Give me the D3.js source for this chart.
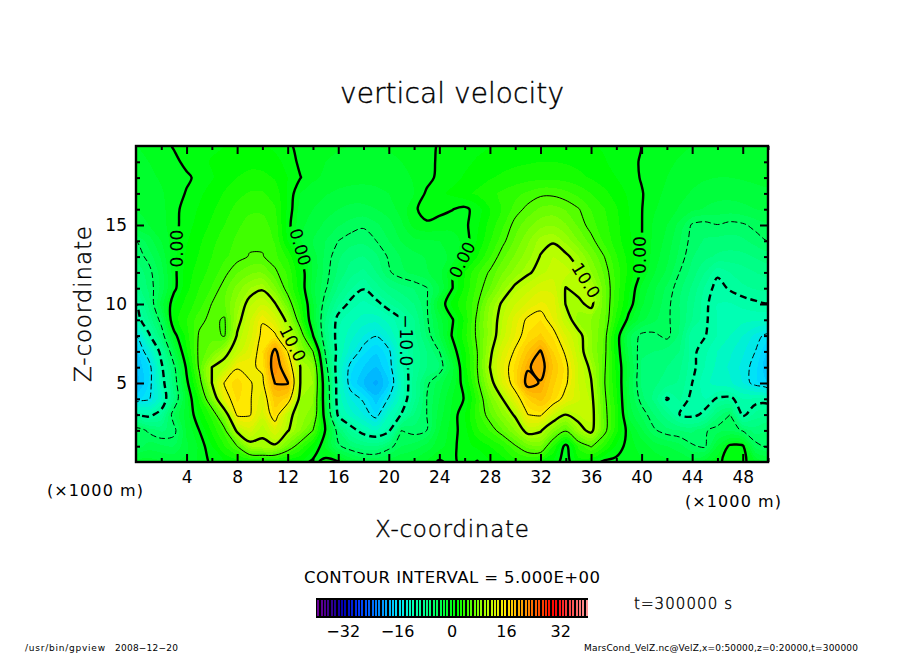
<!DOCTYPE html>
<html><head><meta charset="utf-8">
<script src="https://cdn.jsdelivr.net/npm/d3@7/dist/d3.min.js"></script>
<style>html,body{margin:0;padding:0;background:#fff}svg{display:block}text{font-family:"DejaVu Sans";fill:#000}</style>
</head><body><svg id="c" width="904" height="654"></svg>
<script>
// vertical velocity; one row per km of height, one value per km of x (0..50)
const velZ00=[-1.5,-1.5,-1.8,-2,-1.8,-.8,.3,1,1.5,1.5,1.5,1.5,1,.9,-.4,.4,.2,-2,-3,-3,-2.5,-2,-1.5,-.8,.2,-.4,.6,-.1,1,1.5,2.5,2.8,2,.8,-.8,1.5,1,-.3,-.4,-.6,-.9,-1.3,-1.7,-2,-2.5,-1.5,-.3,.5,.4,-1,-2];
const velZ01=[-4.8,-3.5,-3.8,-4,-2.2,-.8,1,3,5,9,9.7,9.6,6.6,3.8,1.5,-1.2,-4.7,-6,-6.8,-7,-5.6,-4,-3.6,-2.6,-1.4,-.4,.7,1.2,2,3,4.8,6.5,7,3,-.6,3.3,5.2,3.2,.8,-.6,-1.4,-2.4,-3,-3.6,-4.8,-5.3,-2,.4,.3,-4.4,-5.4];
const velZ02=[-4,-5.3,-6.2,-5.6,-1.8,0,2.2,4.4,10.6,12.5,10.3,13,10.2,8,5,-.2,-6,-9,-11,-12,-10.5,-5,-5.5,-5,-2,-.5,.6,2.8,4.1,5.9,8,11,10.3,7.5,5.3,8.9,10.8,5.8,2.4,-.8,-2.8,-4.8,-5.7,-6,-6.2,-5.2,-4.4,-4.2,-5.2,-6.5,-6];
const velZ03=[-10,-10.7,-9,-4,-1.5,1.2,3.4,8,15.4,15.2,12.5,16.5,11,8.5,7.5,-1.5,-10.5,-12.5,-14,-15.8,-12,-9.9,-7,-5,-2.5,-.8,1,3.5,5.8,8,10.4,15,15.4,12,10,11,11.2,5.8,2.8,-2.4,-4.2,-6,-7.6,-10,-10.6,-9.5,-6.5,-5,-10.5,-8.6,-8];
const velZ04=[-16.5,-15.3,-12,-6.8,-1.5,2.3,7.2,14,16.2,15.2,13.5,17.6,16.7,9,8.2,-2.2,-11.4,-14,-15.3,-17.6,-14.8,-11.3,-8.4,-5,-3,-1,0.1,3.4,7,10,13.8,17,18.5,16.6,14,12.2,10.8,5.6,2.3,-2.8,-5.6,-7.3,-10.2,-8.8,-10.5,-11,-9.8,-9.6,-11,-10.8,-11];
const velZ05=[-18.5,-16,-11.2,-6.3,-.5,4,10,15.2,16.5,15.1,14.5,20.1,20.2,10,9,-2.5,-11.5,-16,-18,-19.3,-17,-11.8,-8.5,-5.4,-3.5,-1.8,.8,4.5,8.8,13,16.2,21,19.8,17.3,15.4,12,10.2,5.3,2,-3,-6.2,-6.8,-7.4,-8.2,-10,-11.6,-12.5,-12.8,-14,-15.7,-17];
const velZ06=[-18,-16,-10.5,-5.5,.4,5.3,10,11,14.8,14.6,15.4,22,17.5,10,8.5,-4,-11.8,-15.7,-17,-18,-16,-11.3,-8.8,-7,-6,-2.5,1.5,5,10,13.8,16.3,19.7,21,18,15.6,12,9.5,5.5,1.7,-2.6,-6.2,-6.6,-7,-7.8,-9.6,-11,-12.3,-13.2,-14.3,-15.6,-18];
const velZ07=[-17,-13.8,-9.2,-3,1.8,5.4,6.5,9.2,11.2,13.6,16,20.8,15,8.2,5,-5.5,-11,-13.6,-15.7,-16.8,-15.4,-11.3,-8.8,-7,-5,-1,1.8,5,9.4,13,15.3,18,20.2,17,14.6,11.2,8.2,5.8,1.3,-3.4,-5.8,-6,-6.4,-7,-9.6,-10.7,-12,-12.8,-13.8,-15,-17];
const velZ08=[-15,-10.5,-6.2,-.7,2.5,5.2,5.7,4.8,10.2,12.4,15.6,15.4,11,6.6,0.1,-7,-11,-12.6,-14,-14.9,-13,-10.6,-8.3,-5.9,-3,.1,2.6,5.4,8.6,11.5,14,16.1,17.2,15.8,13,10.8,8.2,6,1.2,-3.6,-5.4,-5.3,-4.6,-6.2,-9.8,-9.9,-11,-12,-13,-14.3,-15.6];
const velZ09=[-11.2,-8,-4.3,1.5,3,4.6,5.4,4.8,9.2,11.8,14.8,12.8,9.2,3.5,-1.6,-7,-10.7,-11.7,-12.4,-12.6,-11.6,-10.2,-8.1,-5.3,-2.5,-.2,2.2,5.4,8.6,11,13.5,15.4,16,14,11.2,8.6,8,6.5,2.7,-.6,-2.7,-3.8,-4.7,-5.9,-8,-9.7,-11,-11.6,-11.7,-11.8,-12];
const velZ10=[-10,-6.6,-2.6,1,2.4,3.5,5.05,5.9,8.4,10.8,11.9,10.2,6.2,2.4,-1.8,-6,-8.8,-10.5,-11.3,-10.6,-9.1,-8,-7,-5.2,-1.1,1.3,2.8,4.8,8,10.4,12,13.2,14.2,13.7,9.9,9.4,10.7,6.5,3.4,.8,-1.8,-3.2,-4.6,-6,-7.7,-9.6,-11,-11.1,-10.7,-10.3,-10.1];
const velZ11=[-7.6,-5.8,-3.7,-.4,1.7,3,4.1,5.6,7.4,9,9.7,7.2,4.2,1.4,-2.7,-4.8,-7.2,-8.9,-9.9,-8.5,-7.2,-6.5,-5.9,-5.1,-3,-.1,2.2,4.3,6,8.5,10.5,11.6,12.7,12.6,9.9,10.8,10.2,6.5,3.6,1.2,-1.2,-2.8,-4.2,-5.7,-7.2,-9.1,-10.6,-9.8,-9.2,-8.9,-8.7];
const velZ12=[-6.8,-5.5,-3.5,-.4,1.5,2.5,3.4,4.6,5.9,6.7,6.9,5.3,3.8,1.1,-2.2,-4.5,-6.2,-7.6,-8.3,-7,-5.2,-4.2,-3.7,-3.1,-2.4,-.2,2,3.8,5.2,6.9,8.4,9.7,10.7,11.5,11.4,10.2,8.1,5.9,3.6,1.7,-.2,-1.9,-3.2,-5,-6.4,-8,-9.7,-9,-8.5,-8,-7.7];
const velZ13=[-5.7,-4.6,-2.8,-.3,1.2,2.1,3,3.8,4.5,5.1,5.1,4.3,2.8,.1,-2.4,-4.3,-5.8,-6.7,-7,-6.2,-4.8,-3.9,-3.3,-2.9,-2.5,-1.7,.2,2,3.9,5.7,7.2,8.6,10.1,11,10.4,9.1,6.9,5.1,3.1,1.6,.1,-1.5,-2.7,-4.3,-5.9,-6.7,-7.2,-7.4,-7.3,-6.9,-6.5];
const velZ14=[-5,-3.5,-2,-.4,.9,1.8,2.7,3.5,4.2,4.7,4.7,3.9,1,-1.9,-3,-4,-5,-5.6,-5.7,-5,-4,-2.9,-2.3,-2.1,-2,-1.6,-.6,1.1,2.9,4.6,6.2,7.8,9.4,9.8,8.7,7,5.5,3.8,2.5,1.2,.05,-1.3,-2.3,-3.9,-5.5,-6.1,-6.3,-6.4,-6.2,-5.6,-5.01];
const velZ15=[-2.3,-2,-1.4,-.4,.6,1.4,2.2,3,3.8,4.4,4.4,3.6,.5,-1.7,-2.5,-3.2,-3.9,-4.4,-4.8,-4.2,-3.4,-2.2,-.6,-.2,-.4,-.6,-.3,.8,2.4,3.8,5.5,6.6,7.6,7.9,7.1,5.8,4.4,3.4,2.3,1.1,.05,-1.2,-2,-3.3,-5.2,-5.5,-5.05,-5.4,-5.2,-4.6,-4.2];
const velZ16=[-2,-1.7,-1.3,-.4,.5,1.1,1.8,2.6,3.3,3.8,3.8,3.1,.8,-1.4,-2,-2.6,-3,-3.3,-3.3,-3,-2.5,-1.6,-.2,.5,.3,.05,-.3,.5,2,3.1,4.4,5.4,6.2,6.4,5.9,5.1,4,3.1,2.1,1,.05,-.9,-1.5,-2.1,-2.7,-3.1,-3.4,-3.5,-3.3,-3,-2.8];
const velZ17=[-1.8,-1.5,-1.1,-.6,.1,.8,1.4,2.1,2.7,3.1,3.1,2.6,.9,-1,-1.5,-1.9,-2.2,-2.4,-2.4,-2.3,-2,-1.6,-1,.2,.8,1.2,1.7,2.2,2.7,3.2,3.7,4.2,4.7,4.7,4.3,3.7,3,2.3,1.6,.8,.1,-.7,-1.2,-1.7,-2.1,-2.4,-2.6,-2.6,-2.5,-2.3,-2.2];
const velZ18=[-1.4,-1.2,-.9,-.6,-.2,.3,.9,1.5,2,2.3,2.3,1.9,1,.05,-.8,-1.2,-1.5,-1.6,-1.7,-1.6,-1.5,-1.3,-.9,-.4,.3,.7,1.1,1.5,1.9,2.2,2.4,2.6,2.7,2.7,2.6,2.3,1.9,1.5,1,.5,-.1,-.6,-1,-1.4,-1.7,-1.9,-2,-2,-1.9,-1.8,-1.7];
const velZ19=[-1.2,-1,-.7,-.3,.3,.7,1.1,1.4,1.6,1.7,1.6,1.3,.7,-.3,-.7,-1,-1.2,-1.3,-1.3,-1.3,-1.2,-1,-.7,-.4,.2,.5,.8,1.1,1.4,1.6,1.8,1.9,2,2,1.9,1.7,1.5,1.1,.7,.3,-.1,-.4,-.8,-1.1,-1.3,-1.5,-1.6,-1.6,-1.5,-1.4,-1.3];
const velZ20=[-1,-.8,-.5,.1,.4,.6,.8,1,1.1,1.2,1.1,.8,.2,-.3,-.6,-.8,-.9,-1,-1,-1,-.9,-.8,-.6,-.3,.1,.3,.5,.8,1,1.2,1.3,1.4,1.5,1.5,1.4,1.3,1.1,.9,.6,.3,-.02,-.3,-.6,-.8,-1,-1.1,-1.2,-1.2,-1.1,-1,-1];
const velRows=[velZ00,velZ01,velZ02,velZ03,velZ04,velZ05,velZ06,velZ07,velZ08,velZ09,velZ10,velZ11,velZ12,velZ13,velZ14,velZ15,velZ16,velZ17,velZ18,velZ19,velZ20];

const xMajor=[4,8,12,16,20,24,28,32,36,40,44,48];
const xMinor=[2,6,10,14,18,22,26,30,34,38,42,46,50];
const zMajor=[5,10,15];
const zMinor=[1,2,3,4,6,7,8,9,11,12,13,14,16,17,18,19];
const contourLevels=[-15,-10,-5,0,5,10,15,20];
const thickLevels=[-10,0,10,20];
const colourValues=[-40,-36,-32,-27,-21,-16,-11.5,-7,1.5,7.5,10.6,15.5,19.5,24.5,30,34,39,40];
const colourStops=["#70009a","#38008c","#0000b4","#0040ff","#0090ff","#00e0ff","#00ffb4","#00ff80","#00ff00","#80ff00","#b8ff00","#ffe800","#ffb000","#ff6000","#ff0000","#ff4040","#ff9090","#ff9898"];
const barTicks=[-32,-16,0,16,32];
const lineLabels=[
 {t:"0.00",x:3.25,z:13.5,a:-90},
 {t:"0.00",x:13,z:13.6,a:74},
 {t:"10.0",x:12.4,z:7.5,a:63},
 {t:"\u221210.0",x:21.4,z:7.7,a:90},
 {t:"0.00",x:25.8,z:12.8,a:-64},
 {t:"0.00",x:39.9,z:13.1,a:-90},
 {t:"10.0",x:35.6,z:11.5,a:58}
];

const svg=d3.select("#c");
const X=d3.scaleLinear().domain([0,50]).range([136,768]);
const Z=d3.scaleLinear().domain([0,20]).range([462,146]);
const colour=d3.scaleLinear().domain(colourValues).range(colourStops);
const values=d3.merge(velRows);
const contours=d3.contours().size([51,21]);
const ringLine=d3.line().x(p=>X(p[0]-.5)).y(p=>Z(p[1]-.5)).curve(d3.curveCatmullRomClosed.alpha(.5));
const path=d=>d.coordinates.map(poly=>poly.map(r=>ringLine(r.slice(0,-1))).join("")).join("");

const defs=svg.append("defs");
defs.append("clipPath").attr("id","plot").append("rect")
 .attr("x",X(0)).attr("y",Z(20)).attr("width",X(50)-X(0)).attr("height",Z(0)-Z(20));
const mask=defs.append("mask").attr("id","gaps").attr("maskUnits","userSpaceOnUse")
 .attr("x",0).attr("y",0).attr("width",904).attr("height",654);
mask.append("rect").attr("width",904).attr("height",654).attr("fill","#fff");
mask.selectAll("rect.g").data(lineLabels).join("rect").attr("class","g")
 .attr("x",d=>-(d.t.length*5.6)).attr("y",-8).attr("width",d=>d.t.length*11.2).attr("height",16).attr("fill","#000")
 .attr("transform",d=>`translate(${X(d.x)},${Z(d.z)}) rotate(${d.a})`);

const plot=svg.append("g").attr("clip-path","url(#plot)");
plot.append("g").selectAll("path").data(contours.thresholds(d3.range(-40,40,1))(values)).join("path")
 .attr("d",path).attr("fill",d=>colour(d.value+.5)).attr("fill-rule","evenodd").attr("shape-rendering","crispEdges");
plot.append("g").attr("mask","url(#gaps)").selectAll("path")
 .data(contours.thresholds(contourLevels)(values)).join("path")
 .attr("d",path).attr("fill","none").attr("stroke","#000").attr("stroke-linejoin","round")
 .attr("stroke-width",d=>thickLevels.includes(d.value)?2.4:1)
 .attr("stroke-dasharray",d=>d.value<0?(thickLevels.includes(d.value)?"7 4":"6 3"):null);

svg.append("g").selectAll("text").data(lineLabels).join("text")
 .attr("transform",d=>`translate(${X(d.x)},${Z(d.z)}) rotate(${d.a})`)
 .attr("text-anchor","middle").attr("dy","0.36em").attr("font-size",17).text(d=>d.t);

function drawAxis(maker,scale,vals,size,tx,ty,labels){
 const ax=maker(scale).tickValues(vals).tickSize(-size).tickSizeOuter(0).tickPadding(labels?labels:0);
 if(!labels) ax.tickFormat("");
 const g=svg.append("g").attr("transform",`translate(${tx},${ty})`).call(ax);
 g.select(".domain").remove();
 g.selectAll("line").attr("stroke","#000").attr("stroke-width",2);
 g.selectAll("text").attr("font-size",17).attr("font-family","DejaVu Sans").attr("fill","#000");
}
drawAxis(d3.axisBottom,X,xMajor,8,0,462,9);
drawAxis(d3.axisBottom,X,xMinor,4,0,462,0);
drawAxis(d3.axisTop,X,xMajor,8,0,146,0);
drawAxis(d3.axisTop,X,xMinor,4,0,146,0);
drawAxis(d3.axisLeft,Z,zMajor,8,136,0,9);
drawAxis(d3.axisLeft,Z,zMinor,4,136,0,0);
drawAxis(d3.axisRight,Z,zMajor,8,768,0,0);
drawAxis(d3.axisRight,Z,zMinor,4,768,0,0);
svg.append("rect").attr("x",X(0)).attr("y",Z(20)).attr("width",X(50)-X(0)).attr("height",Z(0)-Z(20))
 .attr("fill","none").attr("stroke","#000").attr("stroke-width",2.4);

function label(t,x,y,size,len,opts={}){
 const s=svg.append("text").attr("x",x).attr("y",y).attr("font-size",size).text(t)
  .attr("textLength",len).attr("lengthAdjust","spacing");
 if(opts.weight) s.attr("font-weight",opts.weight).attr("stroke","#000").attr("stroke-width",.4);
 if(opts.rot!==undefined) s.attr("transform",`rotate(${opts.rot},${x},${y})`);
 return s;
}
label("vertical velocity",340,103,28,224,{weight:200});
label("X-coordinate",375,537,23,154,{weight:200});
label("Z-coordinate",91,382,23,156,{rot:-90,weight:200});
label("(\u00d71000 m)",47,496,16,96);
label("(\u00d71000 m)",685,507,16,96);
label("CONTOUR INTERVAL = 5.000E+00",304,583,16.5,296);
label("t=300000 s",634,609,15,98,{weight:200});
label("/usr/bin/gpview",25,651,9,80);
label("2008\u221212\u221220",115,651,9,63);
label("MarsCond_VelZ.nc@VelZ,x=0:50000,z=0:20000,t=300000",584,651,9,274);

const B=d3.scaleLinear().domain([-40,40]).range([316,588]);
svg.append("rect").attr("x",B(-40)).attr("y",598).attr("width",B(40)-B(-40)).attr("height",20).attr("fill","#000");
svg.append("g").selectAll("rect").data(d3.range(-40,40,1)).join("rect")
 .attr("x",d=>B(d)+1.2).attr("y",600).attr("width",1.9).attr("height",16).attr("fill",d=>colour(d+.5))
 .attr("shape-rendering","crispEdges");
svg.append("g").selectAll("text").data(barTicks).join("text")
 .attr("x",d=>B(d)).attr("y",637).attr("text-anchor","middle").attr("font-size",16)
 .text(d=>d<0?"\u2212"+(-d):d);
</script></body></html>
